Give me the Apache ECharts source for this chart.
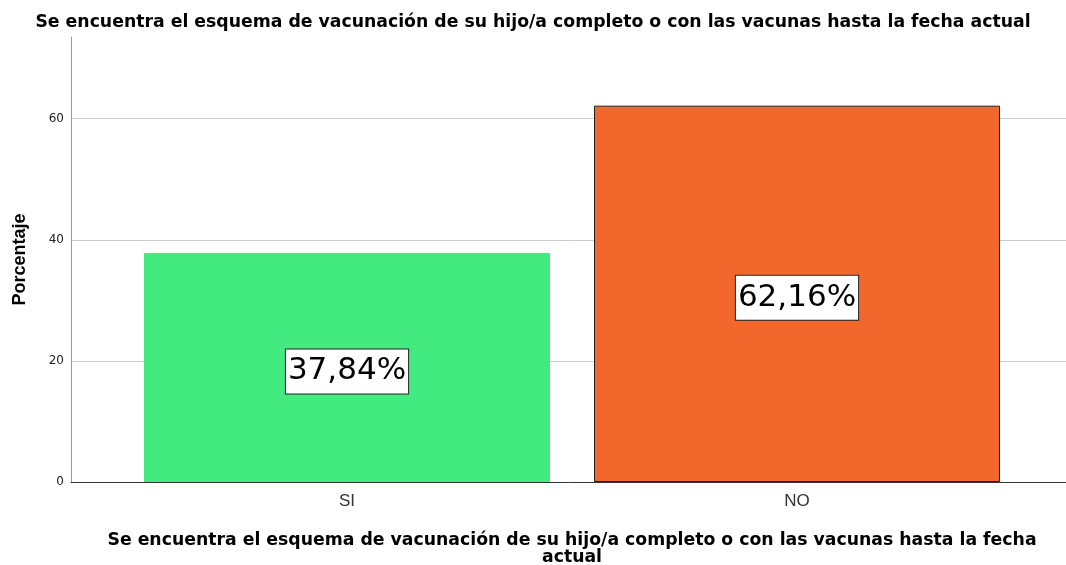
<!DOCTYPE html>
<html>
<head>
<meta charset="utf-8">
<script src="https://cdn.jsdelivr.net/npm/echarts@6/dist/echarts.min.js"></script>
<style>
  html, body { margin: 0; padding: 0; background: #fff; }
  #chart { width: 1066px; height: 565px; }
</style>
</head>
<body>
<div id="chart"></div>
<script>
var categories = ['SI', 'NO'];
var percentages = [37.84, 62.16];
var barColors = ['#42EA7F', '#F2682C'];
var yTicks = [0, 20, 40, 60];

var titleText = 'Se encuentra el esquema de vacunación de su hijo/a completo o con las vacunas hasta la fecha actual';
var xTitle = 'Se encuentra el esquema de vacunación de su hijo/a completo o con las vacunas hasta la fecha\nactual';

var myChart = echarts.init(document.getElementById('chart'));
var font = 'Arial, "Liberation Sans", sans-serif';
var wide = '"DejaVu Sans", sans-serif';

var option = {
  animation: false,
  title: {
    text: titleText,
    left: 'center',
    top: 9,
    textStyle: { fontFamily: wide, fontSize: 17.3, fontWeight: 'bold', color: '#000' }
  },
  grid: [
    { left: 71, right: 0, top: 37, bottom: 83, containLabel: false, outerBoundsMode: 'none' },
    { left: 122, right: 44, top: 37, bottom: 83, containLabel: false, outerBoundsMode: 'none' }
  ],
  xAxis: [
    {
      gridIndex: 0, type: 'category', data: [''],
      axisLine: { lineStyle: { color: '#333', width: 1 } },
      axisTick: { show: false }, axisLabel: { show: false }
    },
    {
      gridIndex: 1, type: 'category', data: categories,
      axisLine: { show: false }, axisTick: { show: false },
      axisLabel: { fontFamily: font, fontSize: 17, color: '#333', margin: 11 },
      name: xTitle, nameLocation: 'middle', nameGap: 50,
      nameTextStyle: { fontFamily: wide, fontSize: 17.3, fontWeight: 'bold', color: '#000', lineHeight: 17 }
    }
  ],
  yAxis: [
    {
      gridIndex: 0, type: 'value', min: 0, max: 73.5, interval: 20,
      axisLine: { show: true, lineStyle: { color: '#999', width: 1 } },
      axisTick: { show: false },
      axisLabel: {
        fontFamily: wide, fontSize: 12, color: '#222', margin: 7,
        showMaxLabel: false,
        formatter: function (v) { return yTicks.indexOf(v) >= 0 ? String(v) : ''; }
      },
      splitLine: { show: true, showMaxLine: false, lineStyle: { color: '#ccc', width: 1 } },
      name: 'Porcentaje', nameLocation: 'middle', nameGap: 42,
      nameTextStyle: { fontFamily: font, fontSize: 18, fontWeight: 'bold', color: '#000' }
    },
    {
      gridIndex: 1, type: 'value', min: 0, max: 73.5, show: false,
      splitLine: { show: false }
    }
  ],
  series: [
    {
      type: 'bar', xAxisIndex: 1, yAxisIndex: 1, barWidth: 406,
      data: percentages.map(function (v, i) {
        return {
          value: v,
          itemStyle: {
            color: barColors[i],
            borderColor: i === 1 ? '#222' : barColors[i],
            borderWidth: 1
          }
        };
      }),
      label: {
        show: true, position: 'inside', offset: [0, 4],
        formatter: function (p) { return p.value.toFixed(2).replace('.', ',') + '%'; },
        fontFamily: wide, fontSize: 31, color: '#000', lineHeight: 36,
        backgroundColor: '#fff', borderColor: '#222', borderWidth: 1,
        padding: [5, 2, 3, 2]
      }
    }
  ]
};
myChart.setOption(option);
</script>
</body>
</html>
